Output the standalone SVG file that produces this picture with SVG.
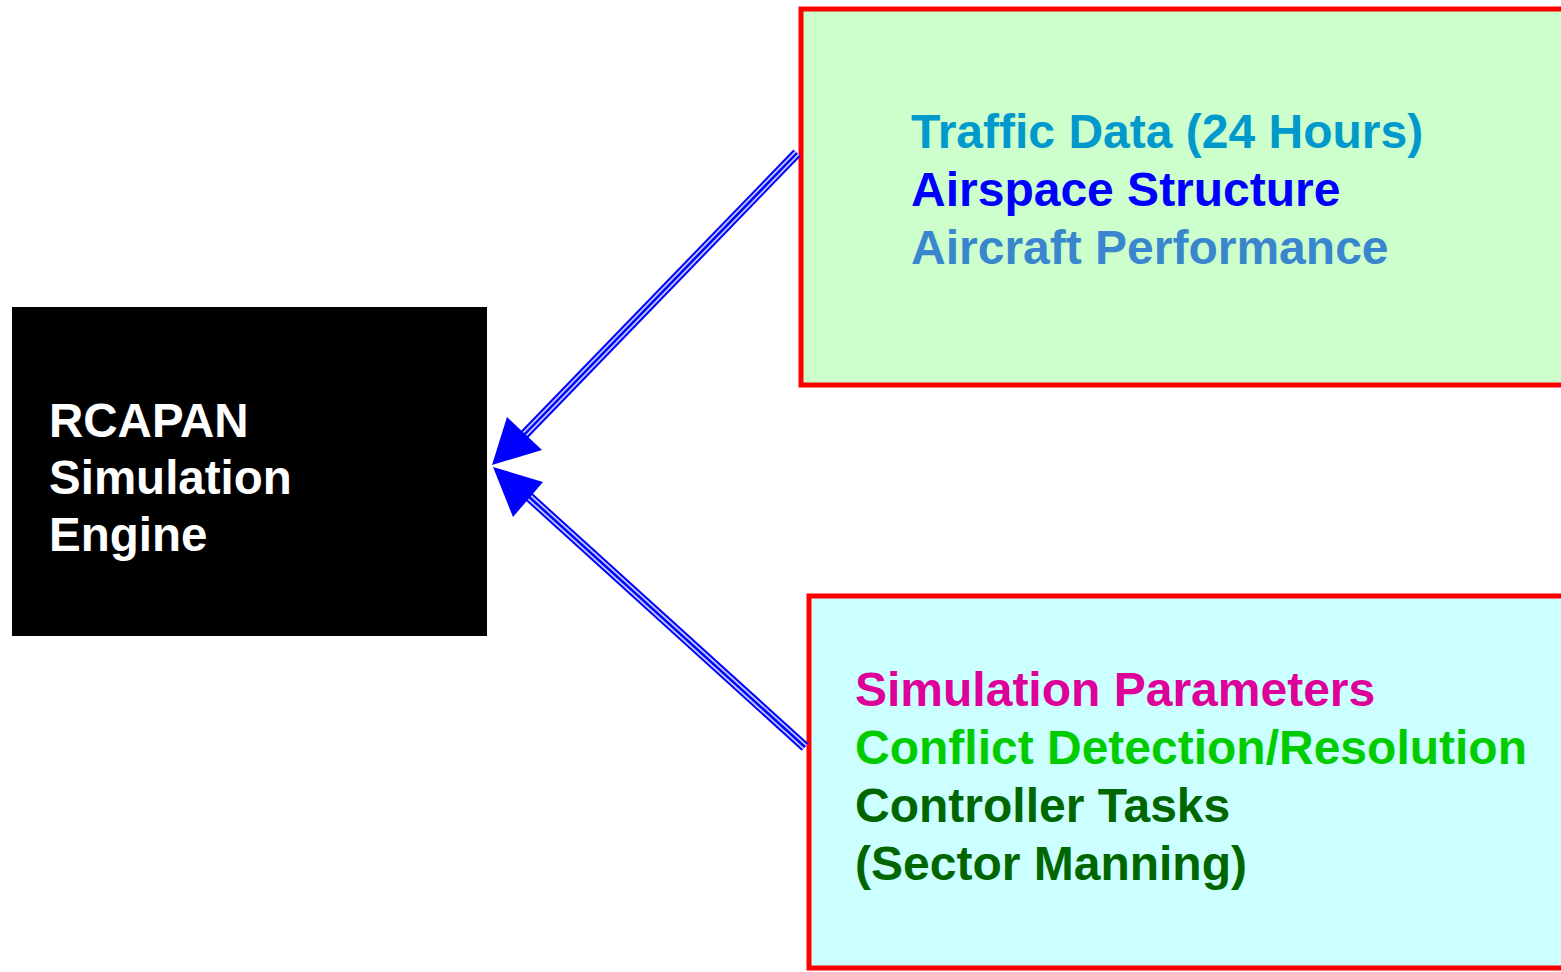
<svg xmlns="http://www.w3.org/2000/svg" width="1561" height="972" viewBox="0 0 1561 972">
<style>
text{font-family:"Liberation Sans",Arial,sans-serif;font-weight:bold;font-size:48px}
#engine text{font-size:47.5px}
.box{stroke:#FF0000;stroke-width:5}
.o{fill:none;stroke:#0000FF;stroke-width:10}
.m{fill:none;stroke:#C0CAFF;stroke-width:6}
.c{fill:none;stroke:#0000FF;stroke-width:2.5}
.head{fill:#0000FF}
</style>
<rect width="1561" height="972" fill="#FFFFFF"/>
<g id="engine">
<rect x="12" y="307" width="475" height="329" fill="#000000"/>
<text x="49" y="437" fill="#FFFFFF">RCAPAN</text>
<text x="49" y="494" fill="#FFFFFF">Simulation</text>
<text x="49" y="551" fill="#FFFFFF">Engine</text>
</g>
<g id="data">
<rect class="box" x="801" y="9" width="770" height="376" fill="#CCFFCC"/>
<text x="911" y="148" fill="#0099CC">Traffic Data (24 Hours)</text>
<text x="911" y="206" fill="#0000FF">Airspace Structure</text>
<text x="911" y="264" fill="#3A86CE">Aircraft Performance</text>
</g>
<g id="params">
<rect class="box" x="809" y="596" width="770" height="372" fill="#CCFFFF"/>
<text x="855" y="706" fill="#DD0099">Simulation Parameters</text>
<text x="855" y="764" fill="#00CC00">Conflict Detection/Resolution</text>
<text x="855" y="822" fill="#006600">Controller Tasks</text>
<text x="855" y="880" fill="#006600">(Sector Manning)</text>
</g>
<g id="connectors">
<path class="o" d="M797,153 L522,437"/>
<path class="m" d="M797,153 L522,437"/>
<path class="c" d="M797,153 L522,437"/>
<polygon class="head" points="492,465 507,417 542,450"/>
<path class="o" d="M805,747 L527,495"/>
<path class="m" d="M805,747 L527,495"/>
<path class="c" d="M805,747 L527,495"/>
<polygon class="head" points="493,467 543,482 513,517"/>
</g>
</svg>
